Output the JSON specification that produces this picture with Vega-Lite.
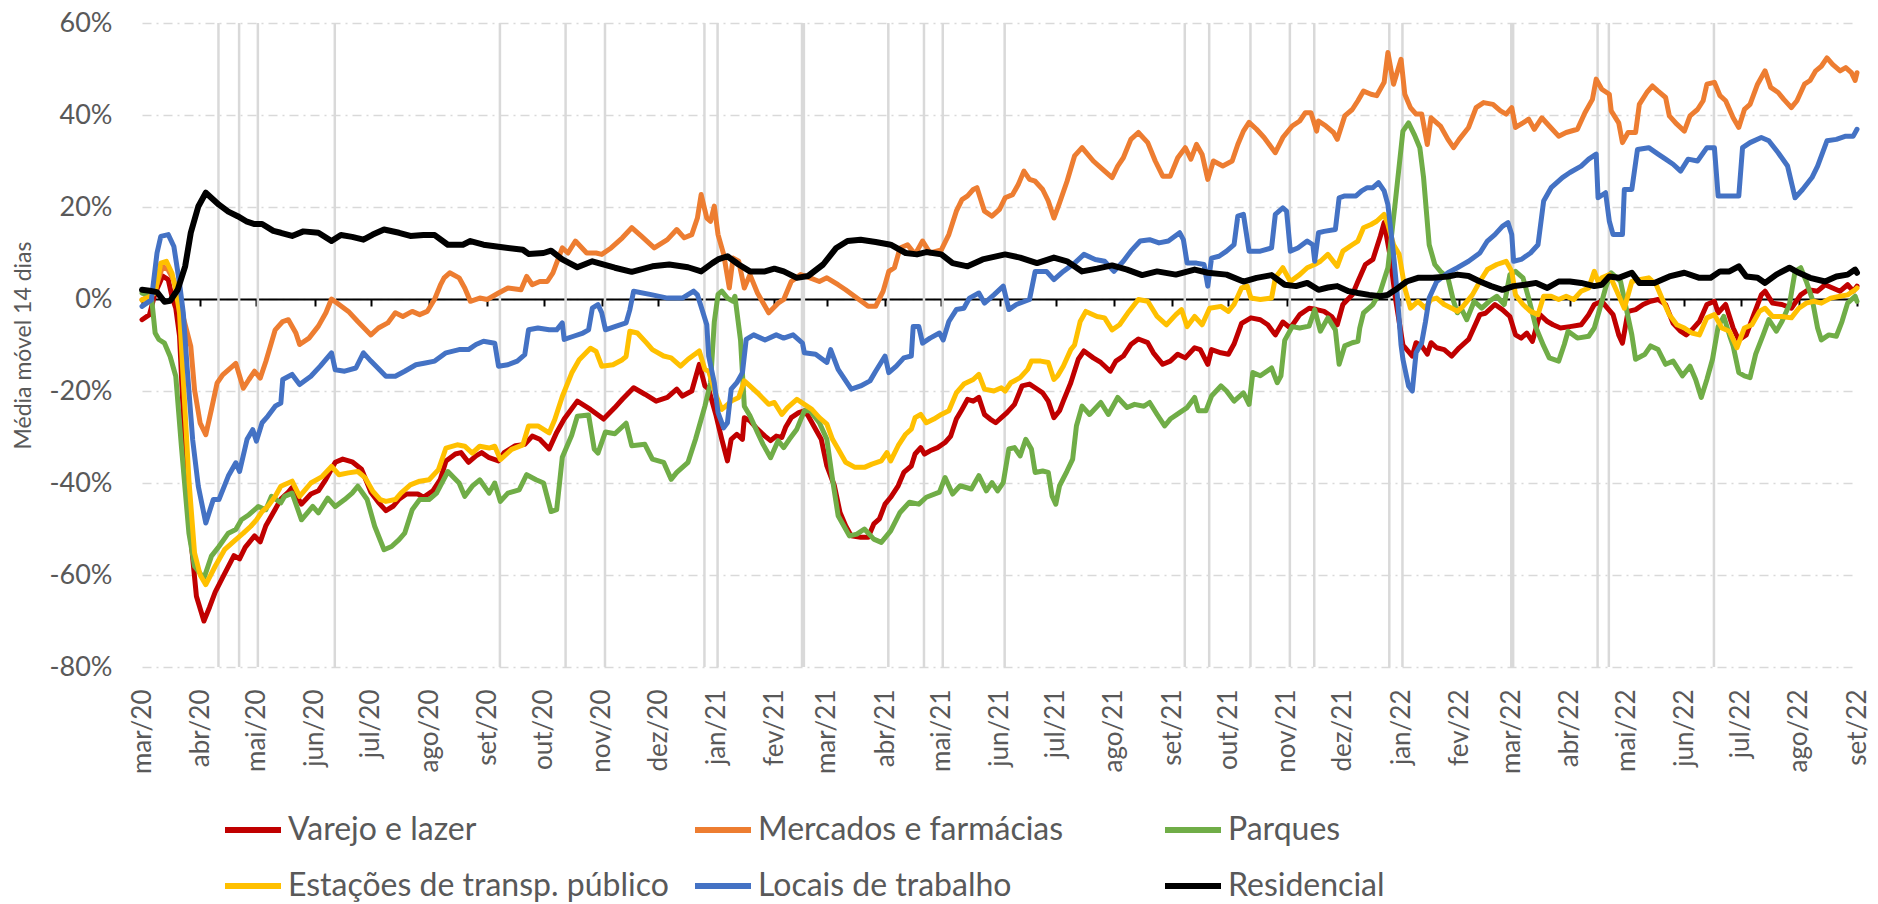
{
"$schema":"https://vega.github.io/schema/vega-lite/v6.json",
"width":1715,"height":644,
"autosize":{"type":"none"},
"padding":{"left":142,"top":23,"right":21,"bottom":237},
"background":"white",
"config":{"view":{"stroke":null},"font":"Lato","axis":{"labelFont":"Lato","titleFont":"Lato","labelColor":"#595959","titleColor":"#595959"}},
"resolve":{"axis":{"x":"independent"}},
"datasets":{
"feriados":[{"d":"2020-04-10T18:00:00Z"},{"d":"2020-04-21T18:00:00Z"},{"d":"2020-05-01T18:00:00Z"},{"d":"2020-06-11T18:00:00Z"},{"d":"2020-09-07T18:00:00Z"},{"d":"2020-10-12T18:00:00Z"},{"d":"2020-11-02T18:00:00Z"},{"d":"2020-12-25T18:00:00Z"},{"d":"2021-01-01T18:00:00Z"},{"d":"2021-02-15T18:00:00Z"},{"d":"2021-02-16T18:00:00Z"},{"d":"2021-04-02T18:00:00Z"},{"d":"2021-04-21T18:00:00Z"},{"d":"2021-05-01T18:00:00Z"},{"d":"2021-06-03T18:00:00Z"},{"d":"2021-09-07T18:00:00Z"},{"d":"2021-09-20T18:00:00Z"},{"d":"2021-10-12T18:00:00Z"},{"d":"2021-11-02T18:00:00Z"},{"d":"2021-11-15T18:00:00Z"},{"d":"2021-12-25T18:00:00Z"},{"d":"2022-01-01T18:00:00Z"},{"d":"2022-02-28T18:00:00Z"},{"d":"2022-03-01T18:00:00Z"},{"d":"2022-04-15T18:00:00Z"},{"d":"2022-04-21T18:00:00Z"},{"d":"2022-06-16T18:00:00Z"}],
"varejo":[{"d":"2020-03-01","v":-4.5},{"d":"2020-03-05","v":-3.4},{"d":"2020-03-08","v":1.3},{"d":"2020-03-10","v":3.1},{"d":"2020-03-12","v":5.0},{"d":"2020-03-15","v":4.2},{"d":"2020-03-17","v":0.5},{"d":"2020-03-19","v":-2},{"d":"2020-03-21","v":-8},{"d":"2020-03-23","v":-25},{"d":"2020-03-27","v":-52},{"d":"2020-03-30","v":-64.6},{"d":"2020-04-03","v":-70},{"d":"2020-04-06","v":-67},{"d":"2020-04-09","v":-63.7},{"d":"2020-04-13","v":-60.5},{"d":"2020-04-19","v":-55.8},{"d":"2020-04-22","v":-56.5},{"d":"2020-04-25","v":-54},{"d":"2020-04-30","v":-51.5},{"d":"2020-05-03","v":-52.8},{"d":"2020-05-06","v":-49.3},{"d":"2020-05-11","v":-45.7},{"d":"2020-05-14","v":-43.5},{"d":"2020-05-18","v":-42},{"d":"2020-05-20","v":-41},{"d":"2020-05-25","v":-44.6},{"d":"2020-05-30","v":-42.4},{"d":"2020-06-03","v":-41.7},{"d":"2020-06-07","v":-39.2},{"d":"2020-06-12","v":-35.5},{"d":"2020-06-16","v":-34.8},{"d":"2020-06-21","v":-35.4},{"d":"2020-06-26","v":-37},{"d":"2020-07-01","v":-42},{"d":"2020-07-05","v":-44.2},{"d":"2020-07-09","v":-46},{"d":"2020-07-13","v":-45},{"d":"2020-07-16","v":-43.5},{"d":"2020-07-20","v":-42.4},{"d":"2020-07-26","v":-42.4},{"d":"2020-07-29","v":-43.1},{"d":"2020-08-03","v":-41.7},{"d":"2020-08-07","v":-39.2},{"d":"2020-08-10","v":-35.2},{"d":"2020-08-15","v":-33.7},{"d":"2020-08-18","v":-33.4},{"d":"2020-08-22","v":-35.5},{"d":"2020-08-26","v":-34.1},{"d":"2020-08-29","v":-33.4},{"d":"2020-09-02","v":-34.5},{"d":"2020-09-07","v":-35.2},{"d":"2020-09-10","v":-33.4},{"d":"2020-09-16","v":-31.9},{"d":"2020-09-21","v":-31.6},{"d":"2020-09-25","v":-29.8},{"d":"2020-09-29","v":-30.5},{"d":"2020-10-04","v":-32.6},{"d":"2020-10-08","v":-29},{"d":"2020-10-12","v":-26.1},{"d":"2020-10-19","v":-22.2},{"d":"2020-10-26","v":-24},{"d":"2020-11-02","v":-26.1},{"d":"2020-11-08","v":-23.6},{"d":"2020-11-12","v":-21.8},{"d":"2020-11-18","v":-19.3},{"d":"2020-11-24","v":-20.7},{"d":"2020-11-30","v":-22.2},{"d":"2020-12-06","v":-21.4},{"d":"2020-12-11","v":-19.6},{"d":"2020-12-14","v":-21.1},{"d":"2020-12-19","v":-20},{"d":"2020-12-23","v":-14.2},{"d":"2020-12-26","v":-18.9},{"d":"2020-12-28","v":-19.6},{"d":"2021-01-01","v":-25.4},{"d":"2021-01-04","v":-30.5},{"d":"2021-01-07","v":-35.2},{"d":"2021-01-09","v":-30.5},{"d":"2021-01-12","v":-29.4},{"d":"2021-01-15","v":-30.5},{"d":"2021-01-16","v":-25.8},{"d":"2021-01-19","v":-26.5},{"d":"2021-01-23","v":-28.3},{"d":"2021-01-27","v":-29.8},{"d":"2021-01-30","v":-30.8},{"d":"2021-02-02","v":-29.8},{"d":"2021-02-05","v":-30.1},{"d":"2021-02-07","v":-27.9},{"d":"2021-02-10","v":-25.8},{"d":"2021-02-14","v":-24.7},{"d":"2021-02-17","v":-24.3},{"d":"2021-02-19","v":-25.4},{"d":"2021-02-23","v":-28.3},{"d":"2021-02-26","v":-30.5},{"d":"2021-03-01","v":-36.3},{"d":"2021-03-05","v":-40.6},{"d":"2021-03-08","v":-46.4},{"d":"2021-03-11","v":-49.3},{"d":"2021-03-14","v":-51.5},{"d":"2021-03-19","v":-51.8},{"d":"2021-03-23","v":-51.8},{"d":"2021-03-26","v":-48.9},{"d":"2021-03-29","v":-47.8},{"d":"2021-04-01","v":-44.6},{"d":"2021-04-04","v":-43.1},{"d":"2021-04-08","v":-40.6},{"d":"2021-04-11","v":-37.7},{"d":"2021-04-15","v":-36.3},{"d":"2021-04-17","v":-33.7},{"d":"2021-04-20","v":-32.3},{"d":"2021-04-22","v":-33.7},{"d":"2021-04-25","v":-33},{"d":"2021-04-29","v":-32.3},{"d":"2021-05-03","v":-31.2},{"d":"2021-05-06","v":-29.8},{"d":"2021-05-09","v":-26.1},{"d":"2021-05-12","v":-24},{"d":"2021-05-15","v":-21.8},{"d":"2021-05-18","v":-22.2},{"d":"2021-05-21","v":-21.4},{"d":"2021-05-24","v":-25.1},{"d":"2021-05-27","v":-26.1},{"d":"2021-05-30","v":-26.9},{"d":"2021-06-02","v":-25.8},{"d":"2021-06-05","v":-24.7},{"d":"2021-06-09","v":-22.9},{"d":"2021-06-13","v":-18.9},{"d":"2021-06-17","v":-18.5},{"d":"2021-06-20","v":-19.3},{"d":"2021-06-24","v":-20.4},{"d":"2021-06-27","v":-22.2},{"d":"2021-06-30","v":-25.8},{"d":"2021-07-03","v":-24.3},{"d":"2021-07-05","v":-22.2},{"d":"2021-07-09","v":-18.2},{"d":"2021-07-13","v":-13.1},{"d":"2021-07-16","v":-11.3},{"d":"2021-07-21","v":-12.8},{"d":"2021-07-25","v":-13.8},{"d":"2021-07-30","v":-15.7},{"d":"2021-08-02","v":-13.5},{"d":"2021-08-06","v":-12.4},{"d":"2021-08-10","v":-9.9},{"d":"2021-08-14","v":-8.7},{"d":"2021-08-19","v":-9.5},{"d":"2021-08-22","v":-11.7},{"d":"2021-08-27","v":-14.2},{"d":"2021-08-31","v":-13.5},{"d":"2021-09-04","v":-12},{"d":"2021-09-08","v":-12.8},{"d":"2021-09-13","v":-10.6},{"d":"2021-09-16","v":-11},{"d":"2021-09-20","v":-14.2},{"d":"2021-09-22","v":-11},{"d":"2021-09-27","v":-11.7},{"d":"2021-10-01","v":-12},{"d":"2021-10-04","v":-9.8},{"d":"2021-10-08","v":-5.3},{"d":"2021-10-13","v":-4.1},{"d":"2021-10-18","v":-4.5},{"d":"2021-10-22","v":-5.6},{"d":"2021-10-26","v":-7.8},{"d":"2021-10-30","v":-5},{"d":"2021-11-03","v":-6.3},{"d":"2021-11-08","v":-3.4},{"d":"2021-11-13","v":-2},{"d":"2021-11-17","v":-2.3},{"d":"2021-11-21","v":-2.7},{"d":"2021-11-25","v":-3.8},{"d":"2021-11-28","v":-5.6},{"d":"2021-12-01","v":-1.2},{"d":"2021-12-06","v":0.9},{"d":"2021-12-09","v":3.8},{"d":"2021-12-13","v":7.5},{"d":"2021-12-17","v":8.6},{"d":"2021-12-21","v":13.7},{"d":"2021-12-23","v":16.6},{"d":"2021-12-26","v":9.7},{"d":"2021-12-29","v":0.2},{"d":"2022-01-02","v":-10},{"d":"2022-01-07","v":-12.4},{"d":"2022-01-09","v":-9.5},{"d":"2022-01-12","v":-10.2},{"d":"2022-01-15","v":-12},{"d":"2022-01-17","v":-9.5},{"d":"2022-01-20","v":-10.6},{"d":"2022-01-24","v":-11},{"d":"2022-01-28","v":-12.4},{"d":"2022-02-01","v":-10.6},{"d":"2022-02-06","v":-8.8},{"d":"2022-02-08","v":-7},{"d":"2022-02-12","v":-3.4},{"d":"2022-02-15","v":-3.1},{"d":"2022-02-20","v":-1.2},{"d":"2022-02-24","v":-2.3},{"d":"2022-02-28","v":-3.8},{"d":"2022-03-03","v":-7.8},{"d":"2022-03-06","v":-8.5},{"d":"2022-03-09","v":-7.4},{"d":"2022-03-12","v":-9.2},{"d":"2022-03-16","v":-3.4},{"d":"2022-03-20","v":-4.9},{"d":"2022-03-23","v":-5.6},{"d":"2022-03-27","v":-6.3},{"d":"2022-04-01","v":-6},{"d":"2022-04-07","v":-5.6},{"d":"2022-04-11","v":-3.4},{"d":"2022-04-14","v":-1.2},{"d":"2022-04-18","v":-0.5},{"d":"2022-04-21","v":-2},{"d":"2022-04-24","v":-3.4},{"d":"2022-04-27","v":-7.8},{"d":"2022-04-29","v":-9.6},{"d":"2022-05-02","v":-2.7},{"d":"2022-05-06","v":-2.3},{"d":"2022-05-10","v":-1.2},{"d":"2022-05-14","v":-0.5},{"d":"2022-05-18","v":-0.1},{"d":"2022-05-22","v":-1.2},{"d":"2022-05-26","v":-5.3},{"d":"2022-05-30","v":-7},{"d":"2022-06-02","v":-7.8},{"d":"2022-06-05","v":-6.7},{"d":"2022-06-09","v":-4.9},{"d":"2022-06-13","v":-1.2},{"d":"2022-06-17","v":-0.5},{"d":"2022-06-19","v":-3},{"d":"2022-06-23","v":-1.2},{"d":"2022-06-27","v":-6.3},{"d":"2022-06-30","v":-8.9},{"d":"2022-07-04","v":-7.8},{"d":"2022-07-08","v":-3.4},{"d":"2022-07-12","v":0.9},{"d":"2022-07-14","v":1.7},{"d":"2022-07-18","v":-0.9},{"d":"2022-07-23","v":-1.2},{"d":"2022-07-28","v":-2},{"d":"2022-08-02","v":0.9},{"d":"2022-08-06","v":2},{"d":"2022-08-11","v":1.7},{"d":"2022-08-15","v":3.1},{"d":"2022-08-19","v":2.4},{"d":"2022-08-23","v":1.7},{"d":"2022-08-27","v":3.1},{"d":"2022-08-30","v":1.7},{"d":"2022-09-01","v":2.8}],
"mercados":[{"d":"2020-03-01","v":-0.2},{"d":"2020-03-05","v":0.5},{"d":"2020-03-08","v":2},{"d":"2020-03-12","v":7.1},{"d":"2020-03-15","v":6.3},{"d":"2020-03-18","v":4},{"d":"2020-03-20","v":1.3},{"d":"2020-03-23","v":-4},{"d":"2020-03-27","v":-10.3},{"d":"2020-03-29","v":-19.7},{"d":"2020-04-01","v":-27},{"d":"2020-04-04","v":-29.5},{"d":"2020-04-07","v":-24},{"d":"2020-04-10","v":-18.3},{"d":"2020-04-13","v":-16.5},{"d":"2020-04-20","v":-14},{"d":"2020-04-24","v":-19.4},{"d":"2020-04-27","v":-17.5},{"d":"2020-04-30","v":-15.7},{"d":"2020-05-03","v":-17.2},{"d":"2020-05-06","v":-13.6},{"d":"2020-05-11","v":-6.7},{"d":"2020-05-15","v":-4.9},{"d":"2020-05-18","v":-4.5},{"d":"2020-05-22","v":-7.4},{"d":"2020-05-24","v":-9.9},{"d":"2020-05-29","v":-8.5},{"d":"2020-06-03","v":-5.9},{"d":"2020-06-07","v":-3},{"d":"2020-06-10","v":0},{"d":"2020-06-14","v":-1.2},{"d":"2020-06-19","v":-2.7},{"d":"2020-06-24","v":-4.9},{"d":"2020-07-01","v":-7.8},{"d":"2020-07-05","v":-6.3},{"d":"2020-07-10","v":-5.2},{"d":"2020-07-14","v":-3},{"d":"2020-07-18","v":-3.8},{"d":"2020-07-23","v":-2.7},{"d":"2020-07-27","v":-3.4},{"d":"2020-07-31","v":-2.7},{"d":"2020-08-04","v":0},{"d":"2020-08-07","v":3},{"d":"2020-08-09","v":4.6},{"d":"2020-08-12","v":5.7},{"d":"2020-08-17","v":4.6},{"d":"2020-08-20","v":2.4},{"d":"2020-08-23","v":-0.5},{"d":"2020-08-28","v":0.2},{"d":"2020-09-01","v":-0.1},{"d":"2020-09-07","v":1.3},{"d":"2020-09-12","v":2.4},{"d":"2020-09-19","v":2},{"d":"2020-09-22","v":4.9},{"d":"2020-09-25","v":3.1},{"d":"2020-09-29","v":3.8},{"d":"2020-10-03","v":3.8},{"d":"2020-10-06","v":5.7},{"d":"2020-10-11","v":11.1},{"d":"2020-10-14","v":10},{"d":"2020-10-18","v":12.6},{"d":"2020-10-24","v":10},{"d":"2020-10-29","v":10},{"d":"2020-11-01","v":9.7},{"d":"2020-11-06","v":11.1},{"d":"2020-11-12","v":13.3},{"d":"2020-11-17","v":15.5},{"d":"2020-11-22","v":13.7},{"d":"2020-11-29","v":11.1},{"d":"2020-12-06","v":12.9},{"d":"2020-12-11","v":15.1},{"d":"2020-12-15","v":13.3},{"d":"2020-12-19","v":14},{"d":"2020-12-22","v":17.6},{"d":"2020-12-24","v":22.7},{"d":"2020-12-27","v":17.6},{"d":"2020-12-29","v":16.9},{"d":"2020-12-31","v":20.2},{"d":"2021-01-02","v":14},{"d":"2021-01-05","v":9.7},{"d":"2021-01-08","v":2.4},{"d":"2021-01-10","v":8.9},{"d":"2021-01-13","v":8.2},{"d":"2021-01-16","v":2.4},{"d":"2021-01-19","v":5.3},{"d":"2021-01-23","v":1.3},{"d":"2021-01-29","v":-3},{"d":"2021-02-03","v":-0.9},{"d":"2021-02-06","v":-0.1},{"d":"2021-02-10","v":3.8},{"d":"2021-02-15","v":5.3},{"d":"2021-02-20","v":4.6},{"d":"2021-02-25","v":3.8},{"d":"2021-03-01","v":4.6},{"d":"2021-03-07","v":3.1},{"d":"2021-03-11","v":2},{"d":"2021-03-17","v":0.2},{"d":"2021-03-23","v":-1.6},{"d":"2021-03-27","v":-1.6},{"d":"2021-03-31","v":1.7},{"d":"2021-04-03","v":6},{"d":"2021-04-06","v":6.8},{"d":"2021-04-09","v":11.1},{"d":"2021-04-13","v":11.8},{"d":"2021-04-17","v":9.7},{"d":"2021-04-21","v":12.6},{"d":"2021-04-25","v":10},{"d":"2021-05-01","v":10.7},{"d":"2021-05-05","v":14},{"d":"2021-05-09","v":19.1},{"d":"2021-05-12","v":21.6},{"d":"2021-05-15","v":22.4},{"d":"2021-05-18","v":23.8},{"d":"2021-05-20","v":24.2},{"d":"2021-05-24","v":19.1},{"d":"2021-05-28","v":18},{"d":"2021-06-01","v":19.5},{"d":"2021-06-04","v":22},{"d":"2021-06-08","v":22.7},{"d":"2021-06-11","v":24.9},{"d":"2021-06-14","v":27.8},{"d":"2021-06-17","v":26},{"d":"2021-06-20","v":25.6},{"d":"2021-06-24","v":23.8},{"d":"2021-06-27","v":21.3},{"d":"2021-06-30","v":17.6},{"d":"2021-07-03","v":20.9},{"d":"2021-07-07","v":25.6},{"d":"2021-07-11","v":31.1},{"d":"2021-07-15","v":32.9},{"d":"2021-07-21","v":30},{"d":"2021-07-26","v":28.2},{"d":"2021-07-31","v":26.4},{"d":"2021-08-03","v":28.9},{"d":"2021-08-06","v":30.7},{"d":"2021-08-10","v":34.7},{"d":"2021-08-14","v":36.2},{"d":"2021-08-19","v":34},{"d":"2021-08-23","v":30},{"d":"2021-08-27","v":26.7},{"d":"2021-08-31","v":26.7},{"d":"2021-09-04","v":30.7},{"d":"2021-09-08","v":32.9},{"d":"2021-09-11","v":30.4},{"d":"2021-09-14","v":33.6},{"d":"2021-09-17","v":31.4},{"d":"2021-09-20","v":26},{"d":"2021-09-23","v":30},{"d":"2021-09-28","v":28.9},{"d":"2021-10-03","v":30},{"d":"2021-10-06","v":33.6},{"d":"2021-10-09","v":36.5},{"d":"2021-10-12","v":38.4},{"d":"2021-10-16","v":36.9},{"d":"2021-10-20","v":35.1},{"d":"2021-10-26","v":31.8},{"d":"2021-10-30","v":35.1},{"d":"2021-11-04","v":37.6},{"d":"2021-11-08","v":38.7},{"d":"2021-11-11","v":40.5},{"d":"2021-11-14","v":40.5},{"d":"2021-11-17","v":36.5},{"d":"2021-11-18","v":38.7},{"d":"2021-11-22","v":37.6},{"d":"2021-11-26","v":36.2},{"d":"2021-11-28","v":34.7},{"d":"2021-12-02","v":39.8},{"d":"2021-12-06","v":41.2},{"d":"2021-12-09","v":43.1},{"d":"2021-12-12","v":45.2},{"d":"2021-12-16","v":44.5},{"d":"2021-12-19","v":44.2},{"d":"2021-12-23","v":47.1},{"d":"2021-12-25","v":53.6},{"d":"2021-12-28","v":46.7},{"d":"2022-01-01","v":52.1},{"d":"2022-01-03","v":44.5},{"d":"2022-01-06","v":41.6},{"d":"2022-01-09","v":40.2},{"d":"2022-01-12","v":40.2},{"d":"2022-01-15","v":33.6},{"d":"2022-01-17","v":39.4},{"d":"2022-01-22","v":37.6},{"d":"2022-01-26","v":34.7},{"d":"2022-01-29","v":32.9},{"d":"2022-02-01","v":34.7},{"d":"2022-02-06","v":37.3},{"d":"2022-02-10","v":41.6},{"d":"2022-02-14","v":42.7},{"d":"2022-02-19","v":42.3},{"d":"2022-02-23","v":40.9},{"d":"2022-02-26","v":40.2},{"d":"2022-03-01","v":41.6},{"d":"2022-03-03","v":37.3},{"d":"2022-03-07","v":38.3},{"d":"2022-03-10","v":39.1},{"d":"2022-03-13","v":36.9},{"d":"2022-03-17","v":39.4},{"d":"2022-03-21","v":37.6},{"d":"2022-03-26","v":35.4},{"d":"2022-03-30","v":36.2},{"d":"2022-04-05","v":36.9},{"d":"2022-04-09","v":40.5},{"d":"2022-04-13","v":43.4},{"d":"2022-04-15","v":47.8},{"d":"2022-04-18","v":45.6},{"d":"2022-04-22","v":44.5},{"d":"2022-04-23","v":40.9},{"d":"2022-04-27","v":38.3},{"d":"2022-04-29","v":34},{"d":"2022-05-02","v":36.2},{"d":"2022-05-06","v":36.2},{"d":"2022-05-08","v":42.3},{"d":"2022-05-12","v":44.9},{"d":"2022-05-15","v":46.3},{"d":"2022-05-18","v":45.2},{"d":"2022-05-22","v":43.8},{"d":"2022-05-24","v":39.8},{"d":"2022-05-28","v":38},{"d":"2022-06-01","v":36.5},{"d":"2022-06-04","v":39.8},{"d":"2022-06-08","v":41.2},{"d":"2022-06-11","v":43.1},{"d":"2022-06-13","v":46.7},{"d":"2022-06-17","v":47.1},{"d":"2022-06-20","v":44.2},{"d":"2022-06-23","v":43.1},{"d":"2022-06-27","v":39.4},{"d":"2022-06-30","v":37.3},{"d":"2022-07-03","v":41.2},{"d":"2022-07-06","v":42.3},{"d":"2022-07-10","v":46.7},{"d":"2022-07-14","v":49.6},{"d":"2022-07-17","v":46},{"d":"2022-07-21","v":44.9},{"d":"2022-07-24","v":43.4},{"d":"2022-07-28","v":41.6},{"d":"2022-07-31","v":43.1},{"d":"2022-08-04","v":46.7},{"d":"2022-08-07","v":47.5},{"d":"2022-08-10","v":49.6},{"d":"2022-08-13","v":50.6},{"d":"2022-08-16","v":52.4},{"d":"2022-08-19","v":51},{"d":"2022-08-23","v":49.6},{"d":"2022-08-26","v":50.3},{"d":"2022-08-29","v":49.2},{"d":"2022-08-31","v":47.5},{"d":"2022-09-01","v":49.2}],
"parques":[{"d":"2020-03-01","v":1.3},{"d":"2020-03-06","v":0.6},{"d":"2020-03-08","v":-7.4},{"d":"2020-03-10","v":-8.8},{"d":"2020-03-13","v":-9.6},{"d":"2020-03-16","v":-12.5},{"d":"2020-03-19","v":-16.8},{"d":"2020-03-22","v":-32},{"d":"2020-03-26","v":-50.9},{"d":"2020-03-29","v":-58.1},{"d":"2020-04-03","v":-60.7},{"d":"2020-04-07","v":-55.9},{"d":"2020-04-11","v":-53.8},{"d":"2020-04-16","v":-50.9},{"d":"2020-04-20","v":-50.1},{"d":"2020-04-23","v":-48},{"d":"2020-04-27","v":-46.9},{"d":"2020-05-02","v":-45.1},{"d":"2020-05-06","v":-45.8},{"d":"2020-05-09","v":-42.9},{"d":"2020-05-14","v":-44.3},{"d":"2020-05-16","v":-42.9},{"d":"2020-05-20","v":-42.2},{"d":"2020-05-25","v":-48},{"d":"2020-05-31","v":-45.1},{"d":"2020-06-03","v":-46.5},{"d":"2020-06-08","v":-43.3},{"d":"2020-06-12","v":-45.1},{"d":"2020-06-17","v":-43.6},{"d":"2020-06-21","v":-42.2},{"d":"2020-06-24","v":-40.7},{"d":"2020-06-29","v":-43.6},{"d":"2020-07-03","v":-49.4},{"d":"2020-07-08","v":-54.5},{"d":"2020-07-12","v":-53.8},{"d":"2020-07-16","v":-52.3},{"d":"2020-07-19","v":-50.9},{"d":"2020-07-23","v":-45.8},{"d":"2020-07-27","v":-43.6},{"d":"2020-08-01","v":-43.6},{"d":"2020-08-05","v":-42.2},{"d":"2020-08-11","v":-37.5},{"d":"2020-08-17","v":-40},{"d":"2020-08-20","v":-42.9},{"d":"2020-08-24","v":-40.7},{"d":"2020-08-28","v":-39.3},{"d":"2020-09-02","v":-42.2},{"d":"2020-09-05","v":-40},{"d":"2020-09-08","v":-44},{"d":"2020-09-12","v":-42.2},{"d":"2020-09-18","v":-41.5},{"d":"2020-09-22","v":-38.2},{"d":"2020-09-27","v":-39.3},{"d":"2020-10-01","v":-40},{"d":"2020-10-05","v":-46.2},{"d":"2020-10-08","v":-45.8},{"d":"2020-10-11","v":-34.4},{"d":"2020-10-16","v":-29.6},{"d":"2020-10-19","v":-25.5},{"d":"2020-10-25","v":-25.2},{"d":"2020-10-28","v":-32.6},{"d":"2020-10-30","v":-33.5},{"d":"2020-11-03","v":-28.9},{"d":"2020-11-08","v":-29.3},{"d":"2020-11-14","v":-27},{"d":"2020-11-17","v":-31.9},{"d":"2020-11-24","v":-31.6},{"d":"2020-11-28","v":-34.8},{"d":"2020-12-04","v":-35.5},{"d":"2020-12-08","v":-39.2},{"d":"2020-12-11","v":-37.7},{"d":"2020-12-17","v":-35.5},{"d":"2020-12-21","v":-30.5},{"d":"2020-12-26","v":-23.3},{"d":"2020-12-29","v":-18.2},{"d":"2020-12-31","v":-5},{"d":"2021-01-02","v":1},{"d":"2021-01-04","v":1.7},{"d":"2021-01-07","v":0.2},{"d":"2021-01-10","v":-0.5},{"d":"2021-01-11","v":0.6},{"d":"2021-01-14","v":-9},{"d":"2021-01-16","v":-23.3},{"d":"2021-01-19","v":-25.4},{"d":"2021-01-23","v":-29},{"d":"2021-01-26","v":-31.6},{"d":"2021-01-30","v":-34.5},{"d":"2021-02-03","v":-30.8},{"d":"2021-02-06","v":-32.3},{"d":"2021-02-09","v":-30.5},{"d":"2021-02-13","v":-28.3},{"d":"2021-02-17","v":-24.3},{"d":"2021-02-20","v":-24.3},{"d":"2021-02-25","v":-26.9},{"d":"2021-03-01","v":-30.5},{"d":"2021-03-04","v":-39.2},{"d":"2021-03-07","v":-47.1},{"d":"2021-03-13","v":-51.5},{"d":"2021-03-17","v":-51.1},{"d":"2021-03-21","v":-50},{"d":"2021-03-26","v":-52.2},{"d":"2021-03-30","v":-52.9},{"d":"2021-04-04","v":-50.4},{"d":"2021-04-09","v":-46.4},{"d":"2021-04-14","v":-44.2},{"d":"2021-04-19","v":-44.6},{"d":"2021-04-23","v":-43.1},{"d":"2021-04-30","v":-42},{"d":"2021-05-03","v":-38.8},{"d":"2021-05-07","v":-42.4},{"d":"2021-05-11","v":-40.6},{"d":"2021-05-17","v":-41.3},{"d":"2021-05-21","v":-38.4},{"d":"2021-05-25","v":-41.7},{"d":"2021-05-28","v":-39.9},{"d":"2021-05-31","v":-41.7},{"d":"2021-06-03","v":-39.9},{"d":"2021-06-06","v":-32.6},{"d":"2021-06-09","v":-32.3},{"d":"2021-06-12","v":-34.1},{"d":"2021-06-15","v":-30.5},{"d":"2021-06-18","v":-32.6},{"d":"2021-06-20","v":-37.7},{"d":"2021-06-24","v":-37.4},{"d":"2021-06-27","v":-37.7},{"d":"2021-06-29","v":-42.8},{"d":"2021-07-01","v":-44.6},{"d":"2021-07-03","v":-40.6},{"d":"2021-07-07","v":-37.4},{"d":"2021-07-10","v":-34.8},{"d":"2021-07-12","v":-27.6},{"d":"2021-07-15","v":-23.3},{"d":"2021-07-19","v":-25.1},{"d":"2021-07-25","v":-22.5},{"d":"2021-07-29","v":-25.1},{"d":"2021-08-03","v":-21.4},{"d":"2021-08-08","v":-23.6},{"d":"2021-08-12","v":-22.9},{"d":"2021-08-17","v":-23.3},{"d":"2021-08-20","v":-22.5},{"d":"2021-08-24","v":-25.1},{"d":"2021-08-28","v":-27.6},{"d":"2021-08-31","v":-26.1},{"d":"2021-09-05","v":-24.7},{"d":"2021-09-09","v":-23.6},{"d":"2021-09-13","v":-21.4},{"d":"2021-09-15","v":-24.3},{"d":"2021-09-19","v":-24.3},{"d":"2021-09-22","v":-21.1},{"d":"2021-09-27","v":-18.9},{"d":"2021-09-30","v":-20},{"d":"2021-10-04","v":-22.2},{"d":"2021-10-09","v":-20.4},{"d":"2021-10-12","v":-22.9},{"d":"2021-10-14","v":-16},{"d":"2021-10-18","v":-16.7},{"d":"2021-10-24","v":-15},{"d":"2021-10-27","v":-18.2},{"d":"2021-10-29","v":-16.7},{"d":"2021-10-31","v":-9},{"d":"2021-11-04","v":-6},{"d":"2021-11-08","v":-6.3},{"d":"2021-11-13","v":-5.9},{"d":"2021-11-16","v":-2.3},{"d":"2021-11-19","v":-7},{"d":"2021-11-23","v":-4.1},{"d":"2021-11-27","v":-6.7},{"d":"2021-11-29","v":-14.2},{"d":"2021-12-02","v":-10.2},{"d":"2021-12-06","v":-9.5},{"d":"2021-12-09","v":-9.2},{"d":"2021-12-10","v":-6.3},{"d":"2021-12-12","v":-3},{"d":"2021-12-17","v":-1.2},{"d":"2021-12-21","v":1.7},{"d":"2021-12-25","v":6.8},{"d":"2021-12-29","v":21.3},{"d":"2022-01-02","v":36.5},{"d":"2022-01-05","v":38.3},{"d":"2022-01-08","v":35.8},{"d":"2022-01-11","v":32.9},{"d":"2022-01-13","v":26.4},{"d":"2022-01-16","v":11.8},{"d":"2022-01-19","v":7.5},{"d":"2022-01-22","v":6},{"d":"2022-01-26","v":4.6},{"d":"2022-01-29","v":-0.5},{"d":"2022-01-31","v":-3},{"d":"2022-02-02","v":-2},{"d":"2022-02-05","v":-4.5},{"d":"2022-02-09","v":-0.5},{"d":"2022-02-13","v":-2},{"d":"2022-02-17","v":-0.5},{"d":"2022-02-21","v":0.6},{"d":"2022-02-25","v":-1.2},{"d":"2022-02-28","v":5.3},{"d":"2022-03-03","v":6},{"d":"2022-03-07","v":4.6},{"d":"2022-03-10","v":0.2},{"d":"2022-03-14","v":-6.3},{"d":"2022-03-18","v":-10.2},{"d":"2022-03-21","v":-12.8},{"d":"2022-03-26","v":-13.5},{"d":"2022-03-29","v":-9.9},{"d":"2022-03-31","v":-7},{"d":"2022-04-05","v":-8.5},{"d":"2022-04-11","v":-8.1},{"d":"2022-04-14","v":-6.3},{"d":"2022-04-17","v":-2},{"d":"2022-04-20","v":2.4},{"d":"2022-04-23","v":5.7},{"d":"2022-04-26","v":4.6},{"d":"2022-04-28","v":3.8},{"d":"2022-05-01","v":-2},{"d":"2022-05-04","v":-7.8},{"d":"2022-05-06","v":-13.1},{"d":"2022-05-11","v":-12},{"d":"2022-05-14","v":-10.2},{"d":"2022-05-18","v":-11},{"d":"2022-05-22","v":-14.2},{"d":"2022-05-26","v":-13.5},{"d":"2022-05-31","v":-16.7},{"d":"2022-06-04","v":-14.6},{"d":"2022-06-07","v":-17.5},{"d":"2022-06-10","v":-21.4},{"d":"2022-06-13","v":-17.5},{"d":"2022-06-16","v":-13.1},{"d":"2022-06-19","v":-6},{"d":"2022-06-22","v":-3.8},{"d":"2022-06-25","v":-7.8},{"d":"2022-06-27","v":-10.2},{"d":"2022-06-30","v":-16},{"d":"2022-07-03","v":-16.7},{"d":"2022-07-06","v":-17.1},{"d":"2022-07-09","v":-12},{"d":"2022-07-13","v":-7.8},{"d":"2022-07-16","v":-4.5},{"d":"2022-07-20","v":-7},{"d":"2022-07-23","v":-4.9},{"d":"2022-07-27","v":-1.2},{"d":"2022-07-30","v":6},{"d":"2022-08-02","v":6.8},{"d":"2022-08-05","v":3.8},{"d":"2022-08-08","v":0.2},{"d":"2022-08-11","v":-6.3},{"d":"2022-08-13","v":-8.9},{"d":"2022-08-17","v":-7.8},{"d":"2022-08-21","v":-8.1},{"d":"2022-08-24","v":-4.9},{"d":"2022-08-27","v":-0.9},{"d":"2022-08-31","v":0.6},{"d":"2022-09-01","v":-0.5}],
"estacoes":[{"d":"2020-03-01","v":-0.2},{"d":"2020-03-05","v":0.5},{"d":"2020-03-08","v":1.3},{"d":"2020-03-11","v":7.8},{"d":"2020-03-14","v":8.2},{"d":"2020-03-17","v":5.6},{"d":"2020-03-19","v":2},{"d":"2020-03-21","v":-3},{"d":"2020-03-23","v":-17.5},{"d":"2020-03-26","v":-39.3},{"d":"2020-03-29","v":-55.2},{"d":"2020-04-01","v":-60},{"d":"2020-04-04","v":-62.1},{"d":"2020-04-09","v":-58.1},{"d":"2020-04-14","v":-54.5},{"d":"2020-04-20","v":-52.3},{"d":"2020-04-24","v":-50.9},{"d":"2020-04-28","v":-49.4},{"d":"2020-05-01","v":-48},{"d":"2020-05-04","v":-46.2},{"d":"2020-05-07","v":-45.1},{"d":"2020-05-11","v":-42.9},{"d":"2020-05-14","v":-40.7},{"d":"2020-05-20","v":-39.6},{"d":"2020-05-24","v":-42.9},{"d":"2020-05-30","v":-40},{"d":"2020-06-05","v":-38.6},{"d":"2020-06-10","v":-36.4},{"d":"2020-06-14","v":-38.2},{"d":"2020-06-19","v":-37.8},{"d":"2020-06-24","v":-37.5},{"d":"2020-06-28","v":-38.9},{"d":"2020-07-02","v":-41.8},{"d":"2020-07-06","v":-43.6},{"d":"2020-07-09","v":-44},{"d":"2020-07-14","v":-43.6},{"d":"2020-07-17","v":-42.2},{"d":"2020-07-22","v":-40.4},{"d":"2020-07-27","v":-39.6},{"d":"2020-08-01","v":-39.3},{"d":"2020-08-06","v":-37.1},{"d":"2020-08-10","v":-32.4},{"d":"2020-08-16","v":-31.7},{"d":"2020-08-20","v":-32},{"d":"2020-08-24","v":-33.5},{"d":"2020-08-28","v":-32},{"d":"2020-09-02","v":-32.4},{"d":"2020-09-05","v":-32},{"d":"2020-09-08","v":-34.9},{"d":"2020-09-14","v":-32.7},{"d":"2020-09-20","v":-31.7},{"d":"2020-09-23","v":-27.6},{"d":"2020-09-28","v":-27.6},{"d":"2020-10-04","v":-29.1},{"d":"2020-10-07","v":-26.2},{"d":"2020-10-11","v":-21.2},{"d":"2020-10-16","v":-16.1},{"d":"2020-10-20","v":-13.2},{"d":"2020-10-26","v":-10.7},{"d":"2020-10-29","v":-11.4},{"d":"2020-11-01","v":-14.6},{"d":"2020-11-07","v":-14.3},{"d":"2020-11-12","v":-13.2},{"d":"2020-11-14","v":-12.5},{"d":"2020-11-16","v":-7},{"d":"2020-11-20","v":-7.4},{"d":"2020-11-25","v":-9.6},{"d":"2020-11-28","v":-11},{"d":"2020-12-04","v":-12.4},{"d":"2020-12-08","v":-12.8},{"d":"2020-12-13","v":-14.6},{"d":"2020-12-17","v":-13.1},{"d":"2020-12-23","v":-11.3},{"d":"2020-12-26","v":-15.3},{"d":"2020-12-28","v":-15.7},{"d":"2021-01-01","v":-21},{"d":"2021-01-04","v":-24},{"d":"2021-01-07","v":-23},{"d":"2021-01-09","v":-22.2},{"d":"2021-01-13","v":-21.4},{"d":"2021-01-16","v":-17.8},{"d":"2021-01-19","v":-18.9},{"d":"2021-01-23","v":-20.4},{"d":"2021-01-29","v":-22.9},{"d":"2021-02-01","v":-22.5},{"d":"2021-02-05","v":-25.1},{"d":"2021-02-08","v":-23.6},{"d":"2021-02-13","v":-21.8},{"d":"2021-02-17","v":-22.9},{"d":"2021-02-21","v":-24},{"d":"2021-02-25","v":-25.8},{"d":"2021-03-01","v":-27.2},{"d":"2021-03-04","v":-30.5},{"d":"2021-03-07","v":-32.6},{"d":"2021-03-11","v":-35.5},{"d":"2021-03-16","v":-36.6},{"d":"2021-03-21","v":-36.6},{"d":"2021-03-25","v":-35.9},{"d":"2021-03-30","v":-35.2},{"d":"2021-04-02","v":-33.4},{"d":"2021-04-04","v":-35.2},{"d":"2021-04-08","v":-31.9},{"d":"2021-04-12","v":-29.4},{"d":"2021-04-15","v":-28.3},{"d":"2021-04-17","v":-25.8},{"d":"2021-04-20","v":-25.1},{"d":"2021-04-23","v":-26.9},{"d":"2021-04-27","v":-26.1},{"d":"2021-05-01","v":-25.1},{"d":"2021-05-05","v":-24.3},{"d":"2021-05-09","v":-20.4},{"d":"2021-05-13","v":-18.5},{"d":"2021-05-18","v":-17.5},{"d":"2021-05-21","v":-16.4},{"d":"2021-05-24","v":-19.6},{"d":"2021-05-29","v":-20},{"d":"2021-06-02","v":-19.3},{"d":"2021-06-04","v":-20},{"d":"2021-06-07","v":-18.2},{"d":"2021-06-12","v":-17.1},{"d":"2021-06-16","v":-15.3},{"d":"2021-06-18","v":-13.5},{"d":"2021-06-23","v":-13.5},{"d":"2021-06-27","v":-13.8},{"d":"2021-06-30","v":-17.5},{"d":"2021-07-02","v":-16.7},{"d":"2021-07-05","v":-14.6},{"d":"2021-07-09","v":-11},{"d":"2021-07-11","v":-10},{"d":"2021-07-14","v":-4.9},{"d":"2021-07-17","v":-2.7},{"d":"2021-07-23","v":-3.8},{"d":"2021-07-27","v":-4.1},{"d":"2021-07-31","v":-6.7},{"d":"2021-08-04","v":-5.6},{"d":"2021-08-09","v":-2.7},{"d":"2021-08-14","v":-0.1},{"d":"2021-08-19","v":-0.5},{"d":"2021-08-24","v":-3.8},{"d":"2021-08-29","v":-5.6},{"d":"2021-09-03","v":-3.4},{"d":"2021-09-06","v":-2.3},{"d":"2021-09-09","v":-6},{"d":"2021-09-13","v":-3.8},{"d":"2021-09-17","v":-5.6},{"d":"2021-09-21","v":-2},{"d":"2021-09-27","v":-1.6},{"d":"2021-10-01","v":-2.7},{"d":"2021-10-04","v":-1.2},{"d":"2021-10-08","v":2.4},{"d":"2021-10-11","v":2.8},{"d":"2021-10-13","v":0.2},{"d":"2021-10-18","v":-0.1},{"d":"2021-10-24","v":0.2},{"d":"2021-10-26","v":4.6},{"d":"2021-10-30","v":6.8},{"d":"2021-11-03","v":3.8},{"d":"2021-11-08","v":5.3},{"d":"2021-11-12","v":6.8},{"d":"2021-11-16","v":7.5},{"d":"2021-11-19","v":8.2},{"d":"2021-11-23","v":9.7},{"d":"2021-11-28","v":7.1},{"d":"2021-12-01","v":10.4},{"d":"2021-12-06","v":11.8},{"d":"2021-12-09","v":12.6},{"d":"2021-12-12","v":15.5},{"d":"2021-12-16","v":16.2},{"d":"2021-12-19","v":16.9},{"d":"2021-12-23","v":18.4},{"d":"2021-12-25","v":16.2},{"d":"2021-12-28","v":11.8},{"d":"2021-12-31","v":9.7},{"d":"2022-01-03","v":2.4},{"d":"2022-01-06","v":-2},{"d":"2022-01-10","v":-0.5},{"d":"2022-01-14","v":-2},{"d":"2022-01-17","v":-0.1},{"d":"2022-01-20","v":0.2},{"d":"2022-01-24","v":-1.2},{"d":"2022-01-28","v":-2},{"d":"2022-01-31","v":-2.7},{"d":"2022-02-03","v":-1.6},{"d":"2022-02-08","v":0.9},{"d":"2022-02-12","v":3.8},{"d":"2022-02-16","v":6.4},{"d":"2022-02-21","v":7.5},{"d":"2022-02-26","v":8.2},{"d":"2022-03-01","v":6},{"d":"2022-03-03","v":0.9},{"d":"2022-03-07","v":-1.2},{"d":"2022-03-11","v":-2.7},{"d":"2022-03-15","v":-3.4},{"d":"2022-03-18","v":0.6},{"d":"2022-03-22","v":0.6},{"d":"2022-03-26","v":-0.1},{"d":"2022-03-30","v":0.6},{"d":"2022-04-03","v":-0.1},{"d":"2022-04-07","v":1.7},{"d":"2022-04-11","v":2.4},{"d":"2022-04-14","v":6},{"d":"2022-04-16","v":3.8},{"d":"2022-04-18","v":4.6},{"d":"2022-04-22","v":5.3},{"d":"2022-04-26","v":1.7},{"d":"2022-04-30","v":-2},{"d":"2022-05-04","v":3.8},{"d":"2022-05-08","v":4.2},{"d":"2022-05-13","v":4.6},{"d":"2022-05-17","v":3.1},{"d":"2022-05-20","v":0.2},{"d":"2022-05-24","v":-3.4},{"d":"2022-05-28","v":-5.6},{"d":"2022-06-01","v":-6.3},{"d":"2022-06-05","v":-7.4},{"d":"2022-06-09","v":-7.8},{"d":"2022-06-13","v":-4.1},{"d":"2022-06-17","v":-3.4},{"d":"2022-06-21","v":-6.3},{"d":"2022-06-25","v":-7},{"d":"2022-06-29","v":-10.6},{"d":"2022-07-03","v":-6.3},{"d":"2022-07-07","v":-5.6},{"d":"2022-07-11","v":-2.7},{"d":"2022-07-14","v":-2},{"d":"2022-07-18","v":-3.8},{"d":"2022-07-23","v":-3.8},{"d":"2022-07-28","v":-4.1},{"d":"2022-08-01","v":-2},{"d":"2022-08-05","v":-0.9},{"d":"2022-08-09","v":-0.5},{"d":"2022-08-13","v":-0.9},{"d":"2022-08-18","v":0.2},{"d":"2022-08-23","v":0.6},{"d":"2022-08-27","v":0.9},{"d":"2022-08-31","v":2},{"d":"2022-09-01","v":2.4}],
"locais":[{"d":"2020-03-01","v":-1.6},{"d":"2020-03-06","v":-0.2},{"d":"2020-03-09","v":10},{"d":"2020-03-11","v":13.6},{"d":"2020-03-15","v":14},{"d":"2020-03-18","v":11.4},{"d":"2020-03-21","v":3.4},{"d":"2020-03-23","v":-3},{"d":"2020-03-25","v":-14.6},{"d":"2020-03-28","v":-30.6},{"d":"2020-03-31","v":-40.7},{"d":"2020-04-04","v":-48.7},{"d":"2020-04-08","v":-43.6},{"d":"2020-04-11","v":-43.6},{"d":"2020-04-16","v":-38.5},{"d":"2020-04-20","v":-35.6},{"d":"2020-04-22","v":-37.5},{"d":"2020-04-26","v":-30.5},{"d":"2020-04-29","v":-28.4},{"d":"2020-05-01","v":-30.9},{"d":"2020-05-04","v":-26.9},{"d":"2020-05-07","v":-25.5},{"d":"2020-05-11","v":-23.3},{"d":"2020-05-14","v":-22.6},{"d":"2020-05-15","v":-17.5},{"d":"2020-05-20","v":-16.4},{"d":"2020-05-24","v":-18.6},{"d":"2020-05-30","v":-16.8},{"d":"2020-06-04","v":-14.6},{"d":"2020-06-10","v":-11.7},{"d":"2020-06-12","v":-15.4},{"d":"2020-06-17","v":-15.7},{"d":"2020-06-23","v":-15},{"d":"2020-06-27","v":-11.7},{"d":"2020-07-01","v":-13.5},{"d":"2020-07-09","v":-16.8},{"d":"2020-07-14","v":-16.8},{"d":"2020-07-19","v":-15.7},{"d":"2020-07-25","v":-14.3},{"d":"2020-07-30","v":-13.9},{"d":"2020-08-04","v":-13.5},{"d":"2020-08-10","v":-11.7},{"d":"2020-08-17","v":-11},{"d":"2020-08-22","v":-11},{"d":"2020-08-26","v":-9.9},{"d":"2020-08-30","v":-9.2},{"d":"2020-09-05","v":-9.6},{"d":"2020-09-07","v":-14.6},{"d":"2020-09-12","v":-14.3},{"d":"2020-09-17","v":-13.5},{"d":"2020-09-21","v":-12.1},{"d":"2020-09-23","v":-6.7},{"d":"2020-09-28","v":-6.3},{"d":"2020-10-04","v":-6.7},{"d":"2020-10-08","v":-6.7},{"d":"2020-10-11","v":-5.2},{"d":"2020-10-12","v":-8.8},{"d":"2020-10-17","v":-8.1},{"d":"2020-10-22","v":-7.4},{"d":"2020-10-25","v":-6.7},{"d":"2020-10-27","v":-2},{"d":"2020-10-30","v":-1.2},{"d":"2020-11-01","v":-3},{"d":"2020-11-03","v":-6.7},{"d":"2020-11-08","v":-6},{"d":"2020-11-14","v":-5.2},{"d":"2020-11-16","v":-2.3},{"d":"2020-11-18","v":1.7},{"d":"2020-11-28","v":0.9},{"d":"2020-12-06","v":0.2},{"d":"2020-12-14","v":0.2},{"d":"2020-12-20","v":1.7},{"d":"2020-12-22","v":0.9},{"d":"2020-12-25","v":-3},{"d":"2020-12-27","v":-5.6},{"d":"2020-12-28","v":-12.4},{"d":"2020-12-31","v":-18.2},{"d":"2021-01-02","v":-24.7},{"d":"2021-01-05","v":-28},{"d":"2021-01-07","v":-26.9},{"d":"2021-01-09","v":-19.6},{"d":"2021-01-12","v":-18.2},{"d":"2021-01-15","v":-16},{"d":"2021-01-17","v":-8.8},{"d":"2021-01-21","v":-7.8},{"d":"2021-01-27","v":-8.9},{"d":"2021-02-02","v":-7.8},{"d":"2021-02-06","v":-8.5},{"d":"2021-02-11","v":-7.8},{"d":"2021-02-16","v":-9.6},{"d":"2021-02-17","v":-11.7},{"d":"2021-02-23","v":-12},{"d":"2021-03-01","v":-13.8},{"d":"2021-03-03","v":-11},{"d":"2021-03-07","v":-15.3},{"d":"2021-03-14","v":-19.6},{"d":"2021-03-19","v":-18.9},{"d":"2021-03-24","v":-17.8},{"d":"2021-03-27","v":-15.7},{"d":"2021-04-01","v":-12.4},{"d":"2021-04-03","v":-16},{"d":"2021-04-07","v":-14.6},{"d":"2021-04-11","v":-12.8},{"d":"2021-04-15","v":-12.4},{"d":"2021-04-16","v":-6},{"d":"2021-04-19","v":-6},{"d":"2021-04-21","v":-9.6},{"d":"2021-04-25","v":-8.5},{"d":"2021-04-30","v":-7.4},{"d":"2021-05-02","v":-8.9},{"d":"2021-05-05","v":-4.9},{"d":"2021-05-09","v":-2.3},{"d":"2021-05-13","v":-2},{"d":"2021-05-16","v":0.2},{"d":"2021-05-21","v":1.3},{"d":"2021-05-24","v":-0.9},{"d":"2021-05-29","v":0.9},{"d":"2021-06-03","v":2.8},{"d":"2021-06-06","v":-2.3},{"d":"2021-06-10","v":-1.2},{"d":"2021-06-17","v":-0.1},{"d":"2021-06-20","v":6},{"d":"2021-06-26","v":6},{"d":"2021-06-30","v":4.2},{"d":"2021-07-05","v":6},{"d":"2021-07-11","v":7.8},{"d":"2021-07-16","v":9.7},{"d":"2021-07-22","v":8.6},{"d":"2021-07-27","v":8.2},{"d":"2021-08-01","v":6},{"d":"2021-08-06","v":8.2},{"d":"2021-08-10","v":10.4},{"d":"2021-08-15","v":12.6},{"d":"2021-08-20","v":12.9},{"d":"2021-08-25","v":12.2},{"d":"2021-08-30","v":12.6},{"d":"2021-09-05","v":14.4},{"d":"2021-09-07","v":12.9},{"d":"2021-09-09","v":7.8},{"d":"2021-09-14","v":7.8},{"d":"2021-09-18","v":7.5},{"d":"2021-09-20","v":2.8},{"d":"2021-09-22","v":8.9},{"d":"2021-09-26","v":9.3},{"d":"2021-09-30","v":10.4},{"d":"2021-10-04","v":11.8},{"d":"2021-10-06","v":18},{"d":"2021-10-09","v":18.4},{"d":"2021-10-12","v":10.4},{"d":"2021-10-18","v":10.4},{"d":"2021-10-24","v":11.1},{"d":"2021-10-26","v":18.4},{"d":"2021-10-30","v":19.8},{"d":"2021-11-01","v":19.1},{"d":"2021-11-03","v":10.4},{"d":"2021-11-07","v":11.1},{"d":"2021-11-12","v":12.6},{"d":"2021-11-15","v":11.8},{"d":"2021-11-16","v":8.2},{"d":"2021-11-18","v":14.4},{"d":"2021-11-21","v":14.7},{"d":"2021-11-27","v":15.1},{"d":"2021-11-29","v":22},{"d":"2021-12-02","v":22.4},{"d":"2021-12-08","v":22.4},{"d":"2021-12-11","v":23.5},{"d":"2021-12-14","v":24.2},{"d":"2021-12-17","v":24.2},{"d":"2021-12-20","v":25.3},{"d":"2021-12-23","v":23.5},{"d":"2021-12-25","v":20.5},{"d":"2021-12-28","v":9.7},{"d":"2021-12-30","v":0.9},{"d":"2022-01-01","v":-10},{"d":"2022-01-02","v":-13.1},{"d":"2022-01-05","v":-18.9},{"d":"2022-01-07","v":-20},{"d":"2022-01-09","v":-11.7},{"d":"2022-01-12","v":-9.5},{"d":"2022-01-14","v":-5},{"d":"2022-01-16","v":0.2},{"d":"2022-01-20","v":3.8},{"d":"2022-01-26","v":5.7},{"d":"2022-01-31","v":6.8},{"d":"2022-02-06","v":8.2},{"d":"2022-02-12","v":10},{"d":"2022-02-16","v":12.6},{"d":"2022-02-20","v":14},{"d":"2022-02-24","v":15.8},{"d":"2022-02-27","v":16.6},{"d":"2022-03-01","v":14},{"d":"2022-03-02","v":8.2},{"d":"2022-03-06","v":8.6},{"d":"2022-03-11","v":10},{"d":"2022-03-15","v":11.8},{"d":"2022-03-18","v":21.3},{"d":"2022-03-22","v":24.2},{"d":"2022-03-28","v":26.4},{"d":"2022-04-01","v":27.5},{"d":"2022-04-07","v":28.9},{"d":"2022-04-11","v":30.4},{"d":"2022-04-15","v":31.5},{"d":"2022-04-16","v":22},{"d":"2022-04-20","v":23.1},{"d":"2022-04-22","v":16.9},{"d":"2022-04-24","v":14},{"d":"2022-04-29","v":14},{"d":"2022-04-30","v":23.8},{"d":"2022-05-04","v":23.8},{"d":"2022-05-07","v":32.5},{"d":"2022-05-13","v":32.9},{"d":"2022-05-18","v":31.5},{"d":"2022-05-22","v":30.4},{"d":"2022-05-26","v":29.3},{"d":"2022-05-30","v":27.8},{"d":"2022-06-03","v":30.4},{"d":"2022-06-08","v":30},{"d":"2022-06-13","v":32.9},{"d":"2022-06-17","v":32.9},{"d":"2022-06-19","v":22.4},{"d":"2022-06-24","v":22.4},{"d":"2022-06-30","v":22.4},{"d":"2022-07-02","v":32.9},{"d":"2022-07-06","v":34},{"d":"2022-07-12","v":35.1},{"d":"2022-07-16","v":34.4},{"d":"2022-07-21","v":31.8},{"d":"2022-07-26","v":28.9},{"d":"2022-07-30","v":22},{"d":"2022-08-03","v":23.8},{"d":"2022-08-08","v":26.4},{"d":"2022-08-11","v":28.9},{"d":"2022-08-16","v":34.4},{"d":"2022-08-21","v":34.7},{"d":"2022-08-26","v":35.4},{"d":"2022-08-30","v":35.4},{"d":"2022-09-01","v":36.9}],
"residencial":[{"d":"2020-03-01","v":2},{"d":"2020-03-05","v":1.8},{"d":"2020-03-09","v":1.5},{"d":"2020-03-13","v":-0.6},{"d":"2020-03-16","v":-0.4},{"d":"2020-03-20","v":2},{"d":"2020-03-24","v":7.1},{"d":"2020-03-27","v":14.4},{"d":"2020-03-31","v":20.1},{"d":"2020-04-04","v":23.1},{"d":"2020-04-11","v":20.5},{"d":"2020-04-16","v":19},{"d":"2020-04-21","v":18},{"d":"2020-04-26","v":16.8},{"d":"2020-04-30","v":16.3},{"d":"2020-05-04","v":16.3},{"d":"2020-05-10","v":14.8},{"d":"2020-05-14","v":14.4},{"d":"2020-05-20","v":13.7},{"d":"2020-05-26","v":14.7},{"d":"2020-06-03","v":14.4},{"d":"2020-06-10","v":12.6},{"d":"2020-06-15","v":13.9},{"d":"2020-06-21","v":13.5},{"d":"2020-06-27","v":12.9},{"d":"2020-07-02","v":14},{"d":"2020-07-08","v":15.1},{"d":"2020-07-16","v":14.4},{"d":"2020-07-22","v":13.7},{"d":"2020-07-29","v":13.9},{"d":"2020-08-04","v":13.9},{"d":"2020-08-11","v":11.8},{"d":"2020-08-19","v":11.8},{"d":"2020-08-23","v":12.6},{"d":"2020-08-30","v":11.8},{"d":"2020-09-08","v":11.3},{"d":"2020-09-20","v":10.7},{"d":"2020-09-23","v":9.8},{"d":"2020-10-01","v":10},{"d":"2020-10-05","v":10.5},{"d":"2020-10-11","v":8.6},{"d":"2020-10-19","v":6.9},{"d":"2020-10-27","v":8.2},{"d":"2020-11-08","v":6.8},{"d":"2020-11-17","v":5.9},{"d":"2020-11-28","v":7.1},{"d":"2020-12-07","v":7.5},{"d":"2020-12-17","v":6.9},{"d":"2020-12-24","v":6},{"d":"2020-12-30","v":7.8},{"d":"2021-01-02","v":8.6},{"d":"2021-01-07","v":9.3},{"d":"2021-01-13","v":7.5},{"d":"2021-01-19","v":6},{"d":"2021-01-27","v":6},{"d":"2021-02-01","v":6.6},{"d":"2021-02-06","v":6},{"d":"2021-02-13","v":4.6},{"d":"2021-02-19","v":5},{"d":"2021-02-27","v":7.5},{"d":"2021-03-06","v":11.1},{"d":"2021-03-12","v":12.6},{"d":"2021-03-19","v":12.9},{"d":"2021-03-27","v":12.4},{"d":"2021-04-04","v":11.8},{"d":"2021-04-12","v":10},{"d":"2021-04-18","v":9.7},{"d":"2021-04-23","v":10.2},{"d":"2021-05-01","v":9.7},{"d":"2021-05-07","v":7.8},{"d":"2021-05-15","v":7.1},{"d":"2021-05-23","v":8.6},{"d":"2021-06-04","v":9.7},{"d":"2021-06-12","v":9},{"d":"2021-06-21","v":7.8},{"d":"2021-06-30","v":9},{"d":"2021-07-07","v":8.2},{"d":"2021-07-15","v":6},{"d":"2021-07-23","v":6.6},{"d":"2021-07-31","v":7.3},{"d":"2021-08-08","v":6.4},{"d":"2021-08-16","v":5.2},{"d":"2021-08-24","v":6},{"d":"2021-09-03","v":5.3},{"d":"2021-09-13","v":6.4},{"d":"2021-09-20","v":5.7},{"d":"2021-09-30","v":5.3},{"d":"2021-10-09","v":3.8},{"d":"2021-10-16","v":4.6},{"d":"2021-10-24","v":5.2},{"d":"2021-10-31","v":3.1},{"d":"2021-11-06","v":2.8},{"d":"2021-11-12","v":3.5},{"d":"2021-11-18","v":2},{"d":"2021-11-23","v":2.5},{"d":"2021-11-28","v":2.8},{"d":"2021-12-04","v":1.7},{"d":"2021-12-09","v":1.3},{"d":"2021-12-15","v":0.9},{"d":"2021-12-21","v":0.6},{"d":"2021-12-25","v":0.9},{"d":"2021-12-29","v":2},{"d":"2022-01-04","v":3.8},{"d":"2022-01-10","v":4.6},{"d":"2022-01-18","v":4.6},{"d":"2022-01-26","v":4.9},{"d":"2022-01-31","v":5.3},{"d":"2022-02-06","v":5},{"d":"2022-02-12","v":3.8},{"d":"2022-02-18","v":2.8},{"d":"2022-02-24","v":2},{"d":"2022-03-02","v":2.8},{"d":"2022-03-08","v":3.1},{"d":"2022-03-14","v":3.5},{"d":"2022-03-20","v":2.4},{"d":"2022-03-26","v":3.8},{"d":"2022-04-01","v":3.8},{"d":"2022-04-07","v":3.5},{"d":"2022-04-14","v":2.8},{"d":"2022-04-18","v":3.1},{"d":"2022-04-22","v":4.9},{"d":"2022-04-27","v":4.6},{"d":"2022-05-04","v":5.7},{"d":"2022-05-08","v":3.5},{"d":"2022-05-16","v":3.5},{"d":"2022-05-24","v":4.9},{"d":"2022-06-01","v":5.7},{"d":"2022-06-09","v":4.6},{"d":"2022-06-15","v":4.6},{"d":"2022-06-20","v":6},{"d":"2022-06-25","v":6},{"d":"2022-06-30","v":7.1},{"d":"2022-07-04","v":4.9},{"d":"2022-07-10","v":4.6},{"d":"2022-07-14","v":3.5},{"d":"2022-07-20","v":5.3},{"d":"2022-07-27","v":6.8},{"d":"2022-08-01","v":5.7},{"d":"2022-08-07","v":4.6},{"d":"2022-08-15","v":3.8},{"d":"2022-08-21","v":4.9},{"d":"2022-08-27","v":5.3},{"d":"2022-08-31","v":6.4},{"d":"2022-09-01","v":5.7}]
},
"layer":[
{"data":{"name":"feriados"},"mark":{"type":"rule","color":"#d9d9d9","strokeWidth":2.5},
 "encoding":{"x":{"field":"d","type":"temporal","scale":{"type":"utc","domain":[{"year":2020,"month":3,"date":1,"utc":true},{"year":2022,"month":9,"date":1,"utc":true}]},
  "axis":{"title":null,"orient":"bottom","domain":false,"ticks":false,"tickSize":0,"grid":false,"labelAngle":270,"labelFontSize":26,"labelPadding":22,"labelFlush":false,"labelOverlap":false,"labelBound":false,"tickCount":{"interval":"month","step":1},"labelExpr":"['jan','fev','mar','abr','mai','jun','jul','ago','set','out','nov','dez'][utcmonth(datum.value)] + '/' + utcFormat(datum.value, '%y')"}}}},
{"data":{"name":"varejo"},"mark":{"type":"line","strokeWidth":5,"strokeJoin":"round","strokeCap":"round"},
 "encoding":{"x":{"field":"d","type":"temporal","scale":{"type":"utc","domain":[{"year":2020,"month":3,"date":1,"utc":true},{"year":2022,"month":9,"date":1,"utc":true}]},
  "axis":{"title":null,"orient":"bottom","offset":-368,"domain":true,"domainColor":"#000000","domainWidth":2,"ticks":true,"tickColor":"#000000","tickWidth":2,"tickSize":7,"labels":false,"grid":false,"tickCount":{"interval":"month","step":1}}},
  "y":{"field":"v","type":"quantitative","title":"Média móvel 14 dias","scale":{"domain":[-80,60],"nice":false,"zero":false},
   "axis":{"orient":"left","values":[-80,-60,-40,-20,0,20,40,60],"labelExpr":"datum.value + '%'","labelFontSize":27,"labelPadding":30,"domain":false,"ticks":false,"tickSize":0,"grid":true,"gridColor":"#d9d9d9","gridWidth":1.5,"gridDash":[9,5,2,5],"titleFontSize":23,"titleFontWeight":"normal","titleAngle":270,"titleX":-119,"titleY":322,"titleAlign":"center","titleBaseline":"middle"}},
  "color":{"datum":"Varejo e lazer","scale":{"domain":["Varejo e lazer","Mercados e farmácias","Parques","Estações de transp. público","Locais de trabalho","Residencial"],"range":["#C00000","#ED7D31","#70AD47","#FFC000","#4472C4","#000000"]},
   "legend":{"orient":"none","legendX":80,"legendY":776,"columns":3,"title":null,"symbolType":"stroke","symbolSize":3136,"symbolStrokeWidth":6,"labelFontSize":32,"labelColor":"#595959","labelFont":"Lato","labelOffset":4,"labelLimit":800,"gridAlign":"all","columnPadding":14,"rowPadding":9,"padding":0,"direction":"horizontal"}}}},
{"data":{"name":"mercados"},"mark":{"type":"line","strokeWidth":5,"strokeJoin":"round","strokeCap":"round"},
 "encoding":{"x":{"field":"d","type":"temporal","scale":{"type":"utc"},"axis":null},"y":{"field":"v","type":"quantitative","title":"Média móvel 14 dias"},"color":{"datum":"Mercados e farmácias"}}},
{"data":{"name":"parques"},"mark":{"type":"line","strokeWidth":5,"strokeJoin":"round","strokeCap":"round"},
 "encoding":{"x":{"field":"d","type":"temporal","scale":{"type":"utc"},"axis":null},"y":{"field":"v","type":"quantitative","title":"Média móvel 14 dias"},"color":{"datum":"Parques"}}},
{"data":{"name":"estacoes"},"mark":{"type":"line","strokeWidth":5,"strokeJoin":"round","strokeCap":"round"},
 "encoding":{"x":{"field":"d","type":"temporal","scale":{"type":"utc"},"axis":null},"y":{"field":"v","type":"quantitative","title":"Média móvel 14 dias"},"color":{"datum":"Estações de transp. público"}}},
{"data":{"name":"locais"},"mark":{"type":"line","strokeWidth":5,"strokeJoin":"round","strokeCap":"round"},
 "encoding":{"x":{"field":"d","type":"temporal","scale":{"type":"utc"},"axis":null},"y":{"field":"v","type":"quantitative","title":"Média móvel 14 dias"},"color":{"datum":"Locais de trabalho"}}},
{"data":{"name":"residencial"},"mark":{"type":"line","strokeWidth":6,"strokeJoin":"round","strokeCap":"round"},
 "encoding":{"x":{"field":"d","type":"temporal","scale":{"type":"utc"},"axis":null},"y":{"field":"v","type":"quantitative","title":"Média móvel 14 dias"},"color":{"datum":"Residencial"}}}
]
}
